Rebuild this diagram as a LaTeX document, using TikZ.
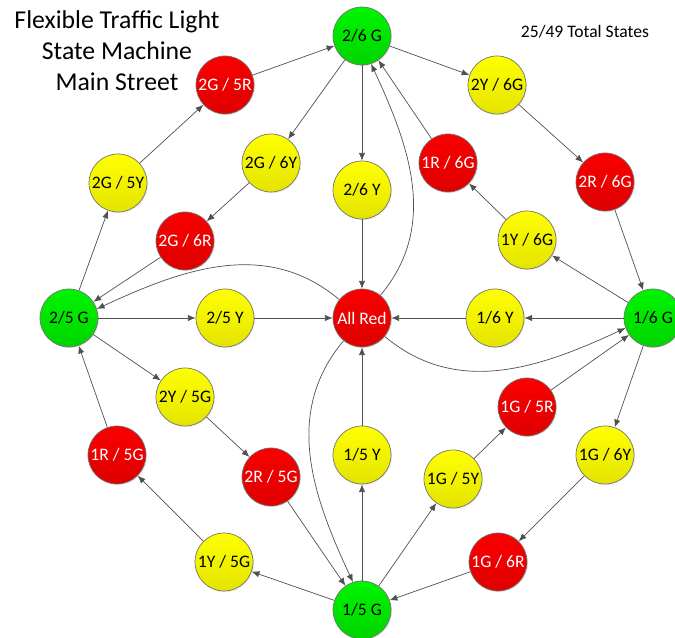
\documentclass[tikz,border=0pt]{standalone}
\usepackage{fontspec}
\setmainfont{Carlito}
\usepackage{tikz}
\usetikzlibrary{arrows.meta}
\usetikzlibrary{shadows}
\tikzset{>={Latex[length=5.5pt,width=4.5pt]}}
\definecolor{greentop}{RGB}{0,245,0}
\definecolor{greenbottom}{RGB}{0,212,0}
\definecolor{redtop}{RGB}{250,0,0}
\definecolor{redbottom}{RGB}{222,0,0}
\definecolor{yellowtop}{RGB}{255,255,0}
\definecolor{yellowbottom}{RGB}{228,228,0}
\definecolor{rim}{RGB}{115,115,115}
\definecolor{edge}{RGB}{80,80,80}

\begin{document}
\begin{tikzpicture}[x=0.025cm, y=0.025cm]
            \tikzset{state/.style={circle, draw=rim, line width=0.5pt, minimum size=1.45cm, inner sep=0pt, font={\fontsize{12.5}{14}\selectfont}, drop shadow={opacity=0.15, shadow xshift=0.8pt, shadow yshift=-0.8pt}}};
            \tikzset{green state/.style={state, top color=greentop, bottom color=greenbottom}};
            \tikzset{yellow state/.style={state, top color=yellowtop, bottom color=yellowbottom}};
            \tikzset{red state/.style={state, top color=redtop, bottom color=redbottom, text=white}};
            \tikzset{arrow/.style={->, edge, line width=0.5pt}};
            \useasboundingbox (0, 0) rectangle (675, 637);
            % Headings
            \node[align=center, font={\fontsize{18.3}{22}\selectfont}] (title) at (117, 586) {Flexible Traffic Light\\State Machine\\Main Street};
            \node[font={\fontsize{12.5}{14}\selectfont}] (total) at (585, 605) {25/49 Total States};
            % Centre
            \node[red state] (allred) at (362, 319) {All Red};
            % Street 2 / 6
            \node[green state] (g26) at (362, 601) {2/6 G};
            \node[yellow state] (y26) at (362, 447) {2/6 Y};
            \node[yellow state] (y2g6) at (497, 552) {2Y / 6G};
            \node[red state] (r2g6) at (605, 455) {2R / 6G};
            \node[yellow state] (g2y6) at (271, 474) {2G / 6Y};
            \node[red state] (g2r6) at (185, 396) {2G / 6R};
            % Street 1 / 6
            \node[green state] (g16) at (653, 319) {1/6 G};
            \node[yellow state] (y16) at (495, 319) {1/6 Y};
            \node[yellow state] (y1g6) at (527, 397) {1Y / 6G};
            \node[red state] (r1g6) at (448, 474) {1R / 6G};
            \node[yellow state] (g1y6) at (605, 182) {1G / 6Y};
            \node[red state] (g1r6) at (498, 75) {1G / 6R};
            % Street 1 / 5
            \node[green state] (g15) at (362, 27) {1/5 G};
            \node[yellow state] (y15) at (362, 182) {1/5 Y};
            \node[yellow state] (g1y5) at (453, 158) {1G / 5Y};
            \node[red state] (g1r5) at (527, 230) {1G / 5R};
            \node[yellow state] (y1g5) at (224, 75) {1Y / 5G};
            \node[red state] (r1g5) at (117, 182) {1R / 5G};
            % Street 2 / 5
            \node[green state] (g25) at (69, 319) {2/5 G};
            \node[yellow state] (y25) at (225, 319) {2/5 Y};
            \node[yellow state] (y2g5) at (185, 240) {2Y / 5G};
            \node[red state] (r2g5) at (271, 160) {2R / 5G};
            \node[yellow state] (g2y5) at (118, 454) {2G / 5Y};
            \node[red state] (g2r5) at (225, 552) {2G / 5R};
            % Transitions from 2/6 G
            \draw[arrow] (g26) -- (y26);
            \draw[arrow] (y26) -- (allred);
            \draw[arrow] (g26) -- (y2g6);
            \draw[arrow] (y2g6) -- (r2g6);
            \draw[arrow] (r2g6) -- (g16);
            \draw[arrow] (g26) -- (g2y6);
            \draw[arrow] (g2y6) -- (g2r6);
            \draw[arrow] (g2r6) -- (g25);
            % Transitions from 1/6 G
            \draw[arrow] (g16) -- (y16);
            \draw[arrow] (y16) -- (allred);
            \draw[arrow] (g16) -- (y1g6);
            \draw[arrow] (y1g6) -- (r1g6);
            \draw[arrow] (r1g6) -- (g26);
            \draw[arrow] (g16) -- (g1y6);
            \draw[arrow] (g1y6) -- (g1r6);
            \draw[arrow] (g1r6) -- (g15);
            % Transitions from 1/5 G
            \draw[arrow] (g15) -- (y15);
            \draw[arrow] (y15) -- (allred);
            \draw[arrow] (g15) -- (g1y5);
            \draw[arrow] (g1y5) -- (g1r5);
            \draw[arrow] (g1r5) -- (g16);
            \draw[arrow] (g15) -- (y1g5);
            \draw[arrow] (y1g5) -- (r1g5);
            \draw[arrow] (r1g5) -- (g25);
            % Transitions from 2/5 G
            \draw[arrow] (g25) -- (y25);
            \draw[arrow] (y25) -- (allred);
            \draw[arrow] (g25) -- (y2g5);
            \draw[arrow] (y2g5) -- (r2g5);
            \draw[arrow] (r2g5) -- (g15);
            \draw[arrow] (g25) -- (g2y5);
            \draw[arrow] (g2y5) -- (g2r5);
            \draw[arrow] (g2r5) -- (g26);
            % Out of All Red
            \draw[arrow] (allred.51) to[out=50, in=-65] (g26.-72);
            \draw[arrow] (allred.-39) to[out=-40, in=-155] (g16.200);
            \draw[arrow] (allred.231) to[out=-130, in=115] (g15.108);
            \draw[arrow] (allred.141) to[out=140, in=25] (g25.18);
\end{tikzpicture}
\end{document}
